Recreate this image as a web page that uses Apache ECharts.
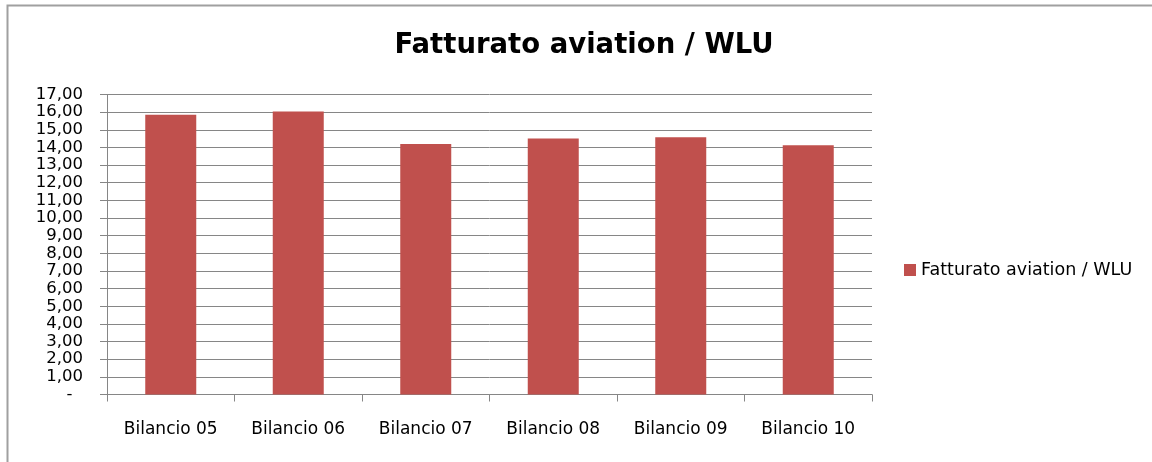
<!DOCTYPE html>
<html>
<head>
<meta charset="utf-8">
<script src="https://cdn.jsdelivr.net/npm/echarts@6/dist/echarts.min.js"></script>
<style>
  html, body { margin: 0; padding: 0; background: #fff; }
  #chart { width: 1152px; height: 462px; }
</style>
</head>
<body>
<div id="chart"></div>
<script>
const categories = ['Bilancio 05', 'Bilancio 06', 'Bilancio 07', 'Bilancio 08', 'Bilancio 09', 'Bilancio 10']
const values = [15.85, 16.04, 14.2, 14.5, 14.58, 14.13]
const seriesName = 'Fatturato aviation / WLU'

const instance = echarts.init(document.getElementById('chart'))

const options = {
  animation: false,
  backgroundColor: '#fff',
  textStyle: {
    fontFamily: 'DejaVu Sans',
  },
  graphic: [
    {
      // 外框 (only left and top edges are visible)
      type: 'polyline',
      shape: { points: [[7.5, 480], [7.5, 5.5], [1170, 5.5]] },
      style: { fill: 'none', stroke: '#a0a0a0', lineWidth: 2 },
      silent: true,
    },
  ],
  title: {
    text: seriesName,
    left: 579,
    textAlign: 'center',
    top: 27,
    textStyle: {
      fontFamily: 'DejaVu Sans',
      fontWeight: 'bold',
      fontSize: 27.5,
      color: '#000',
    },
  },
  legend: {
    left: 899,
    top: 256,
    icon: 'rect',
    itemWidth: 12,
    itemHeight: 12,
    textStyle: {
      fontSize: 17.5,
      color: '#000',
    },
    data: [seriesName],
  },
  grid: {
    left: 107,
    right: 280,
    top: 94.5,
    bottom: 67.5,
    containLabel: false,
  },
  xAxis: {
    type: 'category',
    data: categories,
    axisLine: {
      show: true,
      lineStyle: { color: '#868686', width: 1 },
    },
    axisTick: {
      show: true,
      length: 7,
      lineStyle: { color: '#868686' },
    },
    axisLabel: {
      color: '#000',
      fontSize: 17,
      margin: 27,
      interval: 0,
    },
  },
  yAxis: {
    type: 'value',
    min: 0,
    max: 17,
    interval: 1,
    axisLine: {
      show: true,
      lineStyle: { color: '#868686', width: 1 },
    },
    axisTick: {
      show: true,
      length: 7,
      lineStyle: { color: '#868686' },
    },
    splitLine: {
      show: true,
      lineStyle: { color: '#868686', width: 1 },
    },
    axisLabel: {
      color: '#000',
      fontSize: 16.5,
      margin: 24,
      formatter: (v) => (v === 0 ? '-  ' : v.toFixed(2).replace('.', ',')),
    },
  },
  series: [
    {
      name: seriesName,
      type: 'bar',
      data: values,
      barWidth: 51,
      itemStyle: {
        color: '#C0504D',
      },
    },
  ],
}

instance.setOption(options)
</script>
</body>
</html>
